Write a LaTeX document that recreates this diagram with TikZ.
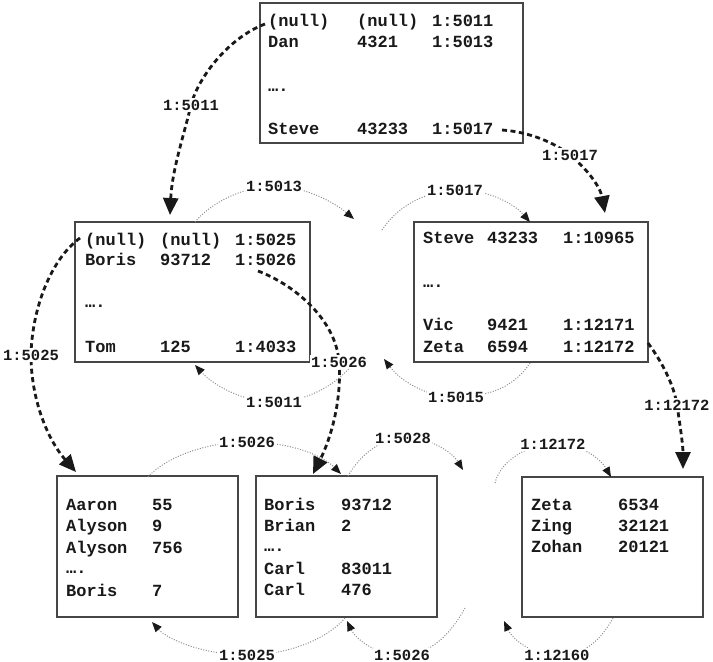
\documentclass[tikz,border=0pt]{standalone}
\usepackage{fontspec}
\setmonofont{Liberation Mono}
\usetikzlibrary{arrows.meta}
\definecolor{boxline}{RGB}{70,70,70}
\definecolor{dotline}{RGB}{140,140,140}
\definecolor{ink}{RGB}{25,25,25}
\newcommand{\rowc}[5]{\makebox[#1][l]{#3}\makebox[#2][l]{#4}#5}
\tikzset{
  page/.style={draw=boxline, line width=1.4pt, inner sep=0pt},
  cell/.style={anchor=base west, inner sep=0pt, text=ink,
    font=\ttfamily\bfseries\fontsize{17}{20}\selectfont},
  lbl/.style={fill=white, inner sep=1.5pt, text=ink,
    font=\ttfamily\bfseries\fontsize{15.5}{18}\selectfont},
  ptr/.style={draw=ink, line width=2.8pt, dash pattern=on 5pt off 3.5pt,
    -{Triangle[length=17pt,width=15pt]}},
  sib/.style={draw=dotline, line width=1pt, dash pattern=on 1pt off 1.6pt,
    -{Triangle[length=10pt,width=8pt,color=ink]}}
}
\begin{document}
\begin{tikzpicture}[x=1pt,y=-1pt]
\useasboundingbox (0,0) rectangle (713,662);
% boxes
\node[page, minimum width=263pt, minimum height=140pt] (top) at (391.5,73) {};
\node[page, minimum width=235pt, minimum height=140pt] (lm) at (192.5,292) {};
\node[page, minimum width=234pt, minimum height=140pt] (rm) at (531,292) {};
\node[page, minimum width=181pt, minimum height=141pt] (b1) at (147.5,546.5) {};
\node[page, minimum width=181pt, minimum height=141pt] (b2) at (346.5,546.5) {};
\node[page, minimum width=181pt, minimum height=140pt] (b3) at (612.5,547) {};
% top box text
\node[cell] (t1) at (268,26) {\rowc{89pt}{75pt}{(null)}{(null)}{1:5011}};
\node[cell] (t2) at (268,47) {\rowc{89pt}{75pt}{Dan}{4321}{1:5013}};
\node[cell] (t3) at (268,91) {….};
\node[cell] (t4) at (268,134) {\rowc{89pt}{75pt}{Steve}{43233}{1:5017}};
% left middle text
\node[cell] (l1) at (85,245) {\rowc{75pt}{75pt}{(null)}{(null)}{1:5025}};
\node[cell] (l2) at (85,265) {\rowc{75pt}{75pt}{Boris}{93712}{1:5026}};
\node[cell] (l3) at (85,307) {….};
\node[cell] (l4) at (85,352) {\rowc{75pt}{75pt}{Tom}{125}{1:4033}};
% right middle text
\node[cell] (r1) at (423,243) {\rowc{64pt}{76pt}{Steve}{43233}{1:10965}};
\node[cell] (r2) at (423,287) {….};
\node[cell] (r3) at (423,330) {\rowc{64pt}{76pt}{Vic}{9421}{1:12171}};
\node[cell] (r4) at (423,352) {\rowc{64pt}{76pt}{Zeta}{6594}{1:12172}};
% bottom left text
\node[cell] (a1) at (66,510) {\rowc{86pt}{0pt}{Aaron}{55}{}};
\node[cell] (a2) at (66,531) {\rowc{86pt}{0pt}{Alyson}{9}{}};
\node[cell] (a3) at (66,553) {\rowc{86pt}{0pt}{Alyson}{756}{}};
\node[cell] (a4) at (66,573) {….};
\node[cell] (a5) at (66,596) {\rowc{86pt}{0pt}{Boris}{7}{}};
% bottom middle text
\node[cell] (m1) at (264,510) {\rowc{77pt}{0pt}{Boris}{93712}{}};
\node[cell] (m2) at (264,531) {\rowc{77pt}{0pt}{Brian}{2}{}};
\node[cell] (m3) at (264,551) {….};
\node[cell] (m4) at (264,574) {\rowc{77pt}{0pt}{Carl}{83011}{}};
\node[cell] (m5) at (264,595) {\rowc{77pt}{0pt}{Carl}{476}{}};
% bottom right text
\node[cell] (z1) at (531,510) {\rowc{87pt}{0pt}{Zeta}{6534}{}};
\node[cell] (z2) at (531,531) {\rowc{87pt}{0pt}{Zing}{32121}{}};
\node[cell] (z3) at (531,552) {\rowc{87pt}{0pt}{Zohan}{20121}{}};

% coordinates for connector ends
\coordinate (p1s) at (265,24);   \coordinate (p1l) at (191,105); \coordinate (p1t) at (170,215);
\coordinate (p2s) at (502,130);  \coordinate (p2l) at (570,155); \coordinate (p2t) at (605,213);
\coordinate (p3s) at (80,238);   \coordinate (p3l) at (31,355);  \coordinate (p3t) at (76,472);
\coordinate (p4s) at (258,271);  \coordinate (p4l) at (339,362); \coordinate (p4t) at (313,474);
\coordinate (p5s) at (648,343);  \coordinate (p5l) at (677,405); \coordinate (p5t) at (683,469);

\coordinate (sas) at (195,222);  \coordinate (sal) at (274,186); \coordinate (sat) at (354,219);
\coordinate (sbs) at (382,230);  \coordinate (sbl) at (455,190); \coordinate (sbt) at (530,222);
\coordinate (scs) at (352,365);  \coordinate (scl) at (274,402); \coordinate (sct) at (195,365);
\coordinate (sds) at (530,363);  \coordinate (sdl) at (456,397); \coordinate (sdt) at (384,359);
\coordinate (ses) at (148,477);  \coordinate (sel) at (247,442); \coordinate (set) at (341,474);
\coordinate (sfs) at (348,476);  \coordinate (sfl) at (403,438); \coordinate (sft) at (463,470);
\coordinate (sgs) at (495,483);  \coordinate (sgl) at (553,444); \coordinate (sgt) at (611,477);
\coordinate (shs) at (345,618);  \coordinate (shl) at (247,655); \coordinate (sht) at (152,622);
\coordinate (sis) at (465,608);  \coordinate (sil) at (402,655); \coordinate (sit) at (347,621);
\coordinate (sjs) at (613,618);  \coordinate (sjl) at (557,655); \coordinate (sjt) at (504,621);

% dashed pointers
\draw[ptr] (p1s) .. controls (228,38) and (198,78) .. (p1l) .. controls (184,135) and (172,170) .. (p1t);
\draw[ptr] (p2s) .. controls (530,132) and (555,143) .. (p2l) .. controls (586,168) and (600,186) .. (p2t);
\draw[ptr] (p3s) .. controls (50,260) and (32,310) .. (p3l) .. controls (31,400) and (48,440) .. (p3t);
\draw[ptr] (p4s) .. controls (295,285) and (336,320) .. (p4l) .. controls (342,402) and (330,440) .. (p4t);
\draw[ptr] (p5s) .. controls (662,362) and (674,385) .. (p5l) .. controls (680,425) and (683,445) .. (p5t);

% dotted sibling links
\draw[sib] (sas) .. controls (210,204) and (240,187) .. (sal) .. controls (305,186) and (335,203) .. (sat);
\draw[sib] (sbs) .. controls (395,210) and (420,192) .. (sbl) .. controls (490,189) and (515,205) .. (sbt);
\draw[sib] (scs) .. controls (335,386) and (305,402) .. (scl) .. controls (243,402) and (213,385) .. (sct);
\draw[sib] (sds) .. controls (515,386) and (490,397) .. (sdl) .. controls (425,397) and (400,380) .. (sdt);
\draw[sib] (ses) .. controls (165,458) and (205,442) .. (sel) .. controls (290,442) and (322,455) .. (set);
\draw[sib] (sfs) .. controls (360,455) and (380,439) .. (sfl) .. controls (430,437) and (452,452) .. (sft);
\draw[sib] (sgs) .. controls (500,462) and (525,445) .. (sgl) .. controls (580,443) and (600,458) .. (sgt);
\draw[sib] (shs) .. controls (325,641) and (285,655) .. (shl) .. controls (205,655) and (168,640) .. (sht);
\draw[sib] (sis) .. controls (450,635) and (430,655) .. (sil) .. controls (375,655) and (355,638) .. (sit);
\draw[sib] (sjs) .. controls (600,641) and (585,655) .. (sjl) .. controls (530,655) and (512,638) .. (sjt);

% labels
\node[lbl] (L1) at (p1l) {1:5011};
\node[lbl] (L2) at (p2l) {1:5017};
\node[lbl] (L3) at (p3l) {1:5025};
\node[lbl] (L4) at (p4l) {1:5026};
\node[lbl] (L5) at (p5l) {1:12172};
\node[lbl] (La) at (sal) {1:5013};
\node[lbl] (Lb) at (sbl) {1:5017};
\node[lbl] (Lc) at (scl) {1:5011};
\node[lbl] (Ld) at (sdl) {1:5015};
\node[lbl] (Le) at (sel) {1:5026};
\node[lbl] (Lf) at (sfl) {1:5028};
\node[lbl] (Lg) at (sgl) {1:12172};
\node[lbl] (Lh) at (shl) {1:5025};
\node[lbl] (Li) at (sil) {1:5026};
\node[lbl] (Lj) at (sjl) {1:12160};
\end{tikzpicture}
\end{document}
